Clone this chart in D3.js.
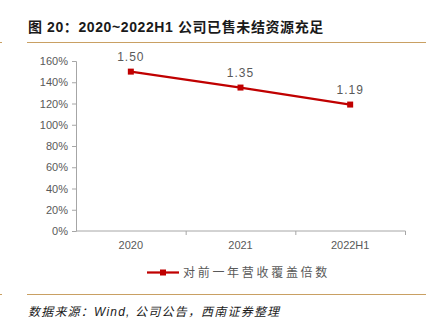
<!DOCTYPE html>
<html>
<head>
<meta charset="utf-8">
<script src="https://cdn.jsdelivr.net/npm/d3@7"></script>
<style>
  body { margin: 0; background: #fff; }
  svg { display: block; font-family: 'Liberation Sans', Arial, 'Noto Sans CJK SC', sans-serif; }
</style>
</head>
<body>
<div id="chart"></div>
<script>
const categories = ['2020', '2021', '2022H1']
const coverage = [1.50, 1.35, 1.19]
const yTicks = [0, 0.2, 0.4, 0.6, 0.8, 1.0, 1.2, 1.4, 1.6]
const seriesName = '对前一年营收覆盖倍数'
const titleText = '图 20：2020~2022H1 公司已售未结资源充足'
const sourceText = '数据来源：Wind, 公司公告，西南证券整理'

function renderLineChart(selector, svgWidth, svgHeight) {
  const margin = {top: 61, right: 29, bottom: 94, left: 76}
  const width = svgWidth - margin.left - margin.right
  const height = svgHeight - margin.top - margin.bottom
  const gold = '#c9a063'
  const red = '#c00000'
  const axisColor = '#a6a6a6'
  const textColor = '#595959'

  const svg = d3.select(selector).append('svg')
    .attr('width', svgWidth)
    .attr('height', svgHeight)

  // title + rules
  svg.append('text')
    .attr('x', 28)
    .attr('y', 32)
    .attr('font-size', 14)
    .attr('font-weight', 'bold')
    .attr('letter-spacing', 0.6)
    .attr('fill', '#1a1a1a')
    .text(titleText)

  ;[42.5, 294.5].forEach(yy => {
    svg.append('line')
      .attr('x1', 27).attr('x2', 426)
      .attr('y1', yy).attr('y2', yy)
      .attr('stroke', gold)
      .attr('stroke-width', 1)
    svg.append('line')
      .attr('x1', 0).attr('x2', 2)
      .attr('y1', yy).attr('y2', yy)
      .attr('stroke', gold)
      .attr('stroke-width', 1)
  })

  svg.append('text')
    .attr('x', 28)
    .attr('y', 316)
    .attr('font-size', 12)
    .attr('font-style', 'italic')
    .attr('letter-spacing', 1.2)
    .attr('fill', '#1a1a1a')
    .text(sourceText)

  const g = svg.append('g')
    .attr('transform', 'translate(' + margin.left + ',' + margin.top + ')')

  const x = d3.scaleBand()
    .domain(categories)
    .range([0, width])
  const y = d3.scaleLinear()
    .domain([0, 1.6])
    .range([height, 0])

  const yAxis = d3.axisLeft(y)
    .tickValues(yTicks)
    .tickFormat(d => Math.round(d * 100) + '%')
    .tickSize(4)
    .tickPadding(4)

  const xAxis = d3.axisBottom(x)
    .tickSize(0)
    .tickPadding(10)

  const gy = g.append('g').call(yAxis)
  gy.select('.domain').attr('stroke', axisColor)
  gy.selectAll('.tick line').attr('stroke', axisColor)
  gy.selectAll('.tick text')
    .attr('fill', textColor)
    .attr('font-size', 11)
    .attr('font-family', "'Liberation Sans', Arial, sans-serif")

  const gx = g.append('g')
    .attr('transform', 'translate(0,' + height + ')')
    .call(xAxis)
  gx.select('.domain').attr('stroke', axisColor).attr('d', 'M0.5,0H' + (width + 0.5) + 'V4')
  gx.selectAll('.tick text')
    .attr('fill', textColor)
    .attr('font-size', 11)
    .attr('font-family', "'Liberation Sans', Arial, sans-serif")

  // tick marks between categories
  g.append('g')
    .selectAll('line')
    .data(categories.slice(1))
    .enter().append('line')
    .attr('x1', d => x(d) + 0.5)
    .attr('x2', d => x(d) + 0.5)
    .attr('y1', height)
    .attr('y2', height + 4)
    .attr('stroke', axisColor)

  const cx = d => x(d) + x.bandwidth() / 2
  const dataset = categories.map((c, i) => ({cat: c, value: coverage[i]}))

  const line = d3.line()
    .x(d => cx(d.cat))
    .y(d => y(d.value))

  g.append('path')
    .datum(dataset)
    .attr('fill', 'none')
    .attr('stroke', red)
    .attr('stroke-width', 2.25)
    .attr('d', line)

  g.selectAll('.marker')
    .data(dataset)
    .enter().append('rect')
    .attr('class', 'marker')
    .attr('x', d => cx(d.cat) - 3)
    .attr('y', d => y(d.value) - 3)
    .attr('width', 6)
    .attr('height', 6)
    .attr('fill', red)

  g.selectAll('.label')
    .data(dataset)
    .enter().append('text')
    .attr('class', 'label')
    .attr('x', d => cx(d.cat))
    .attr('y', d => y(d.value) - 11)
    .attr('text-anchor', 'middle')
    .attr('font-size', 12)
    .attr('letter-spacing', 1)
    .attr('fill', textColor)
    .text(d => d.value.toFixed(2))

  // legend
  const legend = svg.append('g')
    .attr('transform', 'translate(147,272.5)')
  legend.append('line')
    .attr('x1', 0).attr('x2', 32)
    .attr('stroke', red)
    .attr('stroke-width', 2.25)
  legend.append('rect')
    .attr('x', 13).attr('y', -3)
    .attr('width', 6).attr('height', 6)
    .attr('fill', red)
  legend.append('text')
    .attr('x', 36)
    .attr('y', 4)
    .attr('font-size', 12)
    .attr('letter-spacing', 2.7)
    .attr('fill', textColor)
    .text(seriesName)
}

renderLineChart('#chart', 434, 325)
</script>
</body>
</html>
